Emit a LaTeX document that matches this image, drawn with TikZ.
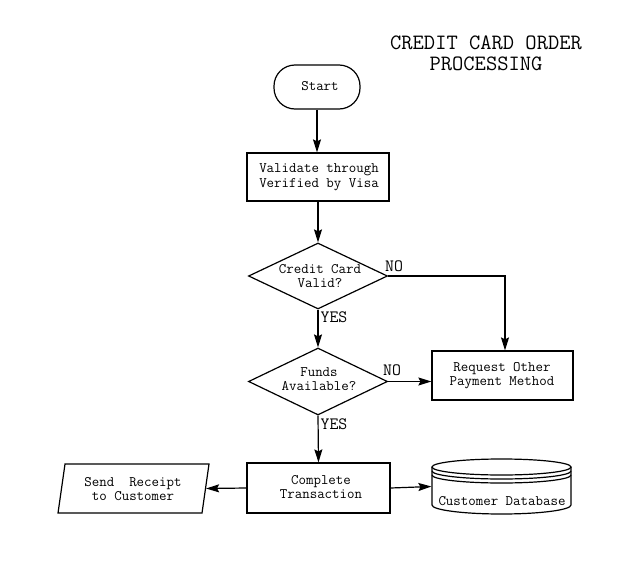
\documentclass[tikz,border=0pt]{standalone}
\usepackage{fontspec}
\usetikzlibrary{arrows.meta,shapes.geometric}
\begin{document}
\begin{tikzpicture}[x=1pt,y=-1pt,
  line width=1.2pt,
  body/.style={font=\ttfamily\fontsize{14.5}{14.7}\selectfont, align=center, inner sep=0pt},
  lbl/.style={font=\ttfamily\fontsize{17.3}{19}\selectfont, inner sep=0pt},
  ttl/.style={font=\ttfamily\fontsize{21.9}{21}\selectfont, align=center, inner sep=0pt},
  box/.style={draw, rectangle, inner sep=0pt},
  term/.style={draw, rectangle, rounded corners=21pt, minimum width=86pt, minimum height=44pt, inner sep=0pt},
  dia/.style={draw, diamond, minimum width=139pt, minimum height=66pt, inner sep=0pt},
  ghost/.style={rectangle, inner sep=0pt},
  arr/.style={-{Stealth[length=13pt,width=8pt,inset=2pt]}}
]
\useasboundingbox (0,0) rectangle (640,562);

% title
\node[ttl] (title) at (486,53) {CREDIT CARD ORDER\\PROCESSING};

% nodes
\node[term] (start) at (317,87) {};
\node[body] (starttxt) at (320,86) {Start};

\node[box, minimum width=142pt, minimum height=48pt] (val) at (318,177) {};
\node[body] (valtxt) at (319,177) {Validate through\\Verified by Visa};

\node[dia] (d1) at (318,276) {};
\node[body] (d1txt) at (320,276) {Credit Card\\Valid?};

\node[dia, minimum height=67pt] (d2) at (318,381.5) {};
\node[body] (d2txt) at (319,379) {Funds\\Available?};

\node[box, minimum width=141pt, minimum height=49pt] (req) at (502.5,375.5) {};
\node[body] (reqtxt) at (502,375.5) {Request Other\\Payment Method};

\node[box, minimum width=143pt, minimum height=50pt] (comp) at (318.5,488) {};
\node[body] (comptxt) at (321,487) {Complete\\Transaction};

% parallelogram
\node[ghost, minimum width=144pt, minimum height=49pt] (sr) at (133.5,488.5) {};
\draw (65,464) -- (209,464) -- (202,513) -- (58,513) -- cycle;
\node[body] (srtxt) at (133,489) {Send\ \ Receipt\\to Customer};

% database cylinder
\node[ghost, minimum width=139pt, minimum height=55pt] (db) at (501.5,486.5) {};
\draw (501.5,467) ellipse [x radius=69.5pt, y radius=8pt];
\draw (432,471) arc[start angle=180, end angle=360, x radius=69.5pt, y radius=8pt];
\draw (432,475) arc[start angle=180, end angle=360, x radius=69.5pt, y radius=8pt];
\draw (432,467) -- (432,505) arc[start angle=180, end angle=360, x radius=69.5pt, y radius=9pt] -- (571,467);
\node[body] (dbtxt) at (502,501) {Customer Database};

% labels
\node[lbl] (no1) at (394,266) {NO};
\node[lbl] (yes1) at (334,317) {YES};
\node[lbl] (no2) at (392,370) {NO};
\node[lbl] (yes2) at (334,424) {YES};

% connectors
\draw[arr] (start.south) -- (start.south |- val.north);
\draw[arr] (val) -- (d1);
\draw[arr] (d1.south) -- (d2.north);
\draw[arr] (d1.east) -| ([xshift=2.5pt]req.north);
\draw[arr] (d2.east) -- (req.west |- d2.east);
\draw[arr] (d2.south) -- (comp.north);
\draw[arr] (comp.west) -- (sr.east);
\draw[arr] (comp.east) -- (db.west);
\end{tikzpicture}
\end{document}
